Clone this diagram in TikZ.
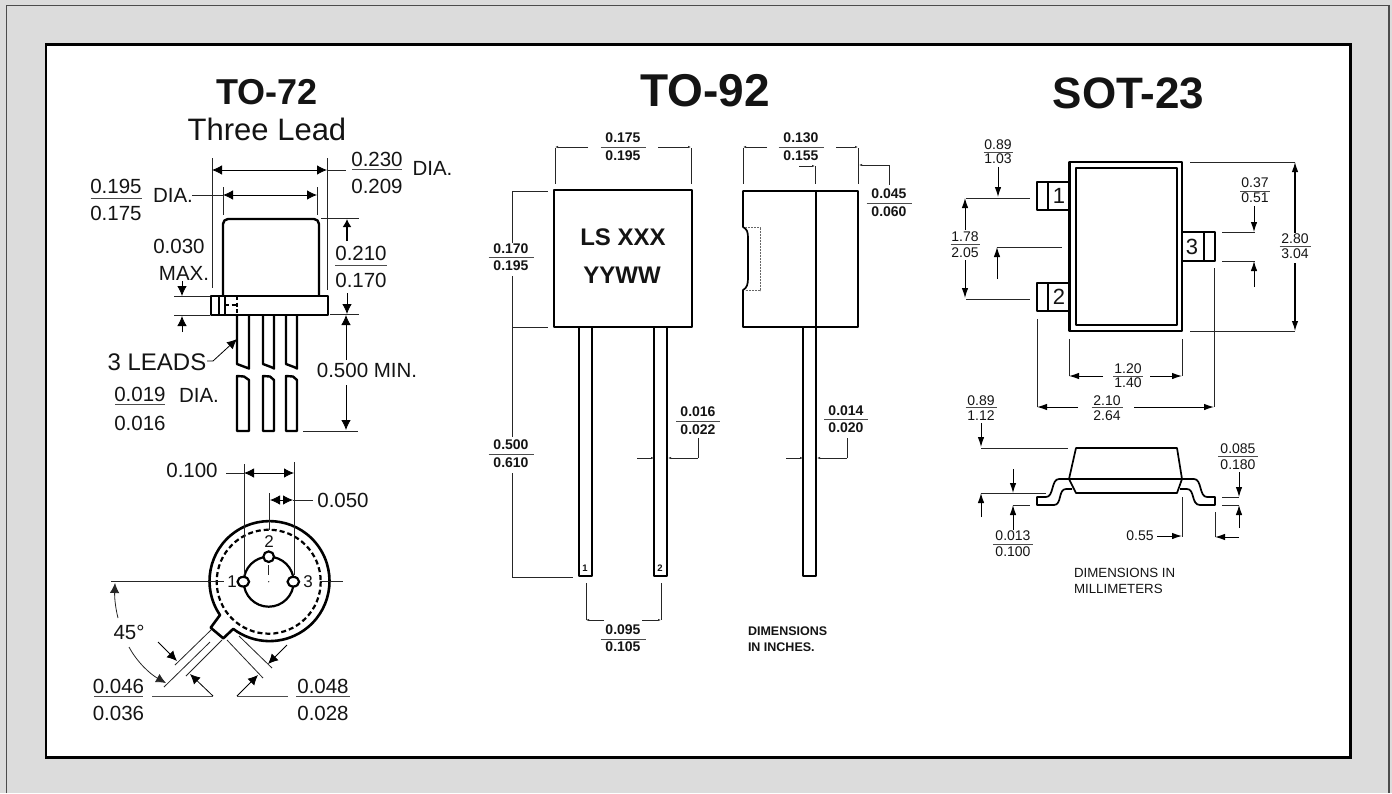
\documentclass[tikz,border=0pt]{standalone}
\usepackage{fontspec}
\setmainfont{Liberation Sans}
\usetikzlibrary{arrows.meta}
\definecolor{panel}{HTML}{DCDCDC}
\newcommand{\fs}[1]{\fontsize{#1}{#1}\selectfont}
\tikzset{
  lab/.style={inner sep=0pt,outer sep=0pt,text=black!92},
  big/.style={lab,font=\fs{20.5}},
  mono/.style={lab,font=\fs{14}\bfseries},
  smt/.style={lab,font=\fs{14}},
  thin line/.style={line width=0.8pt,black!85},
  bold line/.style={line width=2.4pt,black,line join=round},
  mid line/.style={line width=1.7pt,black,line join=round},
  A/.style={line width=0.8pt,black,-{Latex[length=10pt,width=9.5pt]}},
  AB/.style={line width=0.8pt,black,{Latex[length=10pt,width=9.5pt]}-{Latex[length=10pt,width=9.5pt]}},
  S/.style={line width=1pt,black,-{Latex[length=10pt,width=6.5pt]}},
  T/.style={line width=0.8pt,black!85,-{Latex[length=3pt,width=2.2pt]}},
}
% fraction: x, y top, y rule, y bottom, half width, numerator, denominator, style
\newcommand{\frc}[8]{%
  \node[#8] at (#1,#2) {#6};
  \draw[line width=0.9pt,black!70] (#1-#5,#3) -- (#1+#5,#3);
  \node[#8] at (#1,#4) {#7};
}
\begin{document}
\begin{tikzpicture}[x=1pt,y=-1pt]
\useasboundingbox (0,0) rectangle (1392,793);
\fill[panel] (0,0) rectangle (1392,793);
\draw[line width=1.6pt,black!70] (6.5,793) -- (6.5,5.5) -- (1388.8,5.5) -- (1388.8,793);
\draw[line width=2.6pt,black,fill=white] (45.8,44.5) rectangle (1350.5,757.5);

% ============ TO-72 ============
\node[lab,font=\fs{36}\bfseries] (t72) at (267,92) {TO-72};
\node[lab,font=\fs{31}] (t72b) at (267,129) {Three Lead};
% can
\draw[bold line] (223,295) -- (223,224) arc[start angle=180,end angle=270,radius=5] -- (314,219) arc[start angle=270,end angle=360,radius=5] -- (319,295);
\draw[bold line,fill=white] (211,296) rectangle (328,315);
\draw[mid line] (219,296) -- (219,315);
\draw[mid line] (225,296) -- (225,315);
\draw[mid line,dash pattern=on 4pt off 2.5pt] (237,296) -- (237,315);
\draw[mid line,dash pattern=on 4pt off 2.5pt] (225,305) -- (237,305);
% leads
\foreach \a/\b in {237/249,263/274,286/297}{
  \draw[bold line] (\a,316) -- (\a,364) -- (\a+8,367) -- (\b,368.5) -- (\b,316);
  \draw[bold line] (\a,376) -- (\a+7,376.5) -- (\b,380) -- (\b,431) -- (\a,431) -- cycle;
}
% dims top
\draw[thin line] (212,158) -- (212,288);
\draw[thin line] (327,158) -- (327,290);
\draw[AB] (212,170) -- (327,170);
\draw[thin line] (327,170) -- (346,170);
\draw[thin line] (223,187) -- (223,215);
\draw[thin line] (317,187) -- (317,215);
\draw[AB] (223,195) -- (317,195);
\draw[thin line] (192,195) -- (223,195);
\draw[thin line] (321,218) -- (359,218);
\draw[line width=1.8pt,black,-{Latex[length=8pt,width=9pt]}] (347,241) -- (347,219);
\draw[A] (347,293) -- (347,314);
\draw[thin line] (330,314.5) -- (359,314.5);
\draw[A] (346,360) -- (346,315);
\draw[A] (346,385) -- (346,430);
\draw[thin line] (303,431) -- (358,431);
\draw[A] (182,281) -- (182,296);
\draw[thin line] (174,296) -- (210,296);
\draw[thin line] (174,315) -- (210,315);
\draw[A] (182,332) -- (182,316);
\draw[A] (207,361) -- (213,361) -- (237,339);
% texts
\frc{116}{186}{198}{213}{25.5}{0.195}{0.175}{big}
\node[big] at (173,195) {DIA.};
\frc{377}{159}{169}{186}{25}{0.230}{0.209}{big}
\node[big] at (432.5,168) {DIA.};
\frc{361}{253}{265}{280}{26}{0.210}{0.170}{big}
\node[big] at (179,246) {0.030};
\node[big] at (184,273) {MAX.};
\node[lab,font=\fs{24}] at (157,362) {3 LEADS};
\frc{140}{394}{404}{423}{25}{0.019}{0.016}{big}
\node[big] at (199,395) {DIA.};
\node[big] at (367,370) {0.500 MIN.};
% bottom view
\coordinate (c72) at (268.7,581.7);
\draw[line width=2.6pt,black,line join=round] (220,615) arc[start angle=145.6,end angle=487.2,radius=60] -- (223.3,638.3) -- (210.7,627.7) -- cycle;
\draw[line width=2.2pt,black,dash pattern=on 5pt off 3pt] (c72) circle[radius=52];
\draw[line width=2.2pt,black] (c72) circle[radius=25];
\draw[line width=2.2pt,black,fill=white] (243.3,581.7) ellipse[x radius=5.8,y radius=4.8];
\draw[line width=2.2pt,black,fill=white] (293.3,581.7) ellipse[x radius=5.8,y radius=4.8];
\draw[line width=2.2pt,black,fill=white] (268.7,556.7) circle[radius=5.3];
\draw[thin line] (244,464) -- (244,575);
\draw[thin line] (294,462) -- (294,575);
\draw[AB] (244,473) -- (294,473);
\draw[thin line] (226,473) -- (244,473);
\draw[thin line] (269,493) -- (269,530);
\draw[thin line] (268.7,565) -- (268.7,575);
\fill[black] (268.7,581.7) circle[radius=0.6];
\draw[AB] (270,500) -- (293,500);
\draw[thin line] (293,500) -- (313,500);
\draw[thin line] (111,581.7) -- (224,581.7);
\draw[thin line] (320,581.7) -- (343,581.7);
\node[big] at (192,470) {0.100};
\node[big] at (343,500) {0.050};
\node[lab,font=\fs{17}] at (232,582) {1};
\node[lab,font=\fs{17}] at (308,582) {3};
\node[lab,font=\fs{17}] at (269,542) {2};
\node[big] at (129,632) {45°};
\draw[thin line,-{Latex[length=10pt,width=9.5pt]}] (118,618) .. controls (115,606) and (114.5,596) .. (115,583);
\draw[thin line,-{Latex[length=10pt,width=9.5pt]}] (129,647) .. controls (137,662) and (150,674) .. (166,683);
\draw[thin line] (211,630) -- (175,665);
\draw[thin line] (210,642) -- (164,687);
\draw[thin line] (222,640) -- (186,676);
\draw[thin line] (227,640) -- (263,678);
\draw[thin line] (239,636) -- (272,668);
\draw[A] (158,642) -- (177,661);
\draw[A] (287,645) -- (268,664);
\draw[A] (213,696) -- (190,674);
\draw[A] (237,696) -- (258,675);
\draw[line width=0.9pt,black!70] (152,696) -- (213,696);
\draw[line width=0.9pt,black!70] (237,696) -- (288,696);
\frc{118.5}{686}{696}{713}{24.5}{0.046}{0.036}{big}
\frc{323}{686}{696}{713}{27}{0.048}{0.028}{big}

% ============ TO-92 ============
\node[lab,font=\fs{46}\bfseries] (t92) at (705,91) {TO-92};
\draw[mid line] (554,190) rectangle (692,327);
\draw[mid line] (743,191) -- (858,191) -- (858,327) -- (743,327) -- (743,290) .. controls (747,288) and (748,284) .. (748,278) -- (748,238) .. controls (748,232) and (747,229) .. (743,227) -- cycle;
\draw[mid line] (816,191) -- (816,327);
\draw[line width=0.8pt,black!60,dash pattern=on 2pt off 1pt] (745,227.5) -- (760,227.5) -- (760,290.5) -- (745,290.5);
\draw[mid line] (579,327) -- (579,576) -- (592,576) -- (592,327);
\draw[mid line] (654,327) -- (654,576) -- (667,576) -- (667,327);
\draw[mid line] (803,327) -- (803,576) -- (816,576) -- (816,327);
\node[lab,font=\fs{24}\bfseries] at (623,237) {LS XXX};
\node[lab,font=\fs{24}\bfseries] at (622,275) {YYWW};
\node[lab,font=\fs{9.5}\bfseries] at (585,568) {1};
\node[lab,font=\fs{9.5}\bfseries] at (660,568) {2};
% dims
\draw[thin line] (555,148) -- (555,184);
\draw[thin line] (691,148) -- (691,184);
\draw[T] (588,147) -- (555,147);
\draw[T] (658,147) -- (691,147);
\frc{623}{138}{147}{156}{22.5}{0.175}{0.195}{mono}
\draw[thin line] (743,148) -- (743,184);
\draw[thin line] (858,148) -- (858,184);
\draw[T] (767,147) -- (743,147);
\draw[T] (836,147) -- (858,147);
\frc{801}{138}{147}{156}{22.5}{0.130}{0.155}{mono}
\draw[T] (799,166) -- (815,166);
\draw[thin line] (815,166) -- (815,184);
\draw[T] (889,165) -- (859,165);
\draw[thin line] (889,165) -- (889,185);
\frc{889}{194}{203}{212}{22.5}{0.045}{0.060}{mono}
\draw[thin line] (512,191) -- (548,191);
\draw[thin line] (512,191) -- (512,243);
\draw[thin line] (512,276) -- (512,327);
\draw[thin line] (512,327) -- (548,327);
\frc{511}{249}{257}{266}{22.5}{0.170}{0.195}{mono}
\draw[thin line] (512,327) -- (512,437);
\draw[thin line] (512,473) -- (512,577) -- (573,577);
\frc{511}{445}{454}{463}{22.5}{0.500}{0.610}{mono}
\frc{698}{412}{421}{430}{22}{0.016}{0.022}{mono}
\draw[thin line] (698,438) -- (698,458);
\draw[T] (698,458) -- (668,458);
\draw[T] (637,458) -- (654,458);
\frc{846}{411}{419}{428}{22}{0.014}{0.020}{mono}
\draw[thin line] (847,438) -- (847,458);
\draw[T] (847,458) -- (817,458);
\draw[T] (786,458) -- (803,458);
\draw[thin line] (586,583) -- (586,620);
\draw[thin line] (661,583) -- (661,620);
\draw[T] (604,620) -- (586,620);
\draw[T] (642,620) -- (661,620);
\frc{623}{630}{639}{647}{22.5}{0.095}{0.105}{mono}
\node[lab,font=\fs{12.5}\bfseries,anchor=west] at (748,631) {DIMENSIONS};
\node[lab,font=\fs{12.5}\bfseries,anchor=west] at (748,647) {IN INCHES.};

% ============ SOT-23 ============
\node[lab,font=\fs{44}\bfseries] (sot) at (1128.5,93) {SOT-23};
\draw[bold line] (1069.5,162) rectangle (1182,331);
\draw[mid line] (1076,168) rectangle (1177,325);
\draw[mid line] (1069,182) -- (1037,182) -- (1037,210) -- (1069,210);
\draw[mid line] (1048,182) -- (1048,210);
\draw[mid line] (1069,283) -- (1037,283) -- (1037,311) -- (1069,311);
\draw[mid line] (1048,283) -- (1048,311);
\draw[mid line] (1182,232) -- (1215,232) -- (1215,261) -- (1182,261);
\draw[mid line] (1204,232) -- (1204,261);
\node[lab,font=\fs{22}] at (1059,196) {1};
\node[lab,font=\fs{22}] at (1059,297) {2};
\node[lab,font=\fs{22}] at (1192,247) {3};
\frc{998}{145}{152}{159}{14.5}{0.89}{1.03}{smt}
\draw[S] (998,167) -- (998,197);
\draw[thin line] (966,198) -- (1030,198);
\draw[S] (965,230) -- (965,198);
\frc{965}{237}{244}{253}{14.5}{1.78}{2.05}{smt}
\draw[S] (965,260) -- (965,298);
\draw[thin line] (966,299) -- (1030,299);
\draw[thin line] (997,247) -- (1062,247);
\draw[S] (997,279) -- (997,247);
\frc{1255}{183}{191}{198}{15}{0.37}{0.51}{smt}
\draw[S] (1254,206) -- (1254,232);
\draw[thin line] (1222,232) -- (1255,232);
\draw[thin line] (1222,261) -- (1255,261);
\draw[S] (1254,287) -- (1254,261);
\draw[thin line] (1190,162) -- (1295,162);
\draw[thin line] (1190,331) -- (1295,331);
\draw[S,line width=1.2pt] (1295,233) -- (1295,162);
\draw[S,line width=1.2pt] (1295,263) -- (1295,331);
\frc{1295}{239}{246}{254}{15.5}{2.80}{3.04}{smt}
\draw[thin line] (1069,339) -- (1069,376);
\draw[thin line] (1182,339) -- (1182,376);
\draw[S] (1103,376) -- (1069,376);
\draw[S] (1150,376) -- (1182,376);
\frc{1128}{369}{376}{383}{15}{1.20}{1.40}{smt}
\draw[thin line] (1037,319) -- (1037,407);
\draw[thin line] (1214,268) -- (1214,407);
\draw[S] (1078,407) -- (1037,407);
\draw[S] (1134,407) -- (1214,407);
\frc{1107}{401}{407}{416}{15.5}{2.10}{2.64}{smt}
\frc{981}{401}{407}{416}{15.5}{0.89}{1.12}{smt}
\draw[S] (981,423) -- (981,447);
\draw[thin line] (981,448) -- (1068,448);
% side view
\draw[mid line] (1076,448) -- (1177,448) -- (1182,479) -- (1069,479) -- cycle;
\draw[mid line] (1069,479) -- (1076,493) -- (1177,493) -- (1182,479);
\draw[mid line] (1069,479) -- (1059,479) .. controls (1051,479) and (1054,497) .. (1046,497) -- (1037,497) -- (1037,505) -- (1054,505) .. controls (1062,505) and (1058,489) .. (1066,489) -- (1072,489);
\draw[mid line] (1182,479) -- (1194,479) .. controls (1202,479) and (1199,497) .. (1207,497) -- (1215,497) -- (1215,505) -- (1200,505) .. controls (1191,505) and (1195,489) .. (1187,489) -- (1180,489);
\draw[S] (1013,469) -- (1013,493);
\draw[thin line] (981,493) -- (1046,493);
\draw[S] (981,517) -- (981,493);
\draw[thin line] (1013,505) -- (1030,505);
\draw[S] (1013,530) -- (1013,505);
\frc{1013}{536}{544}{552}{20}{0.013}{0.100}{smt}
\node[smt] at (1140,536) {0.55};
\draw[S] (1157,536) -- (1182,536);
\draw[thin line] (1182,497) -- (1182,537);
\frc{1238}{449}{456}{465}{20}{0.085}{0.180}{smt}
\draw[S] (1239,472) -- (1239,497);
\draw[thin line] (1222,497) -- (1239,497);
\draw[thin line] (1222,505) -- (1239,505);
\draw[S] (1239,528) -- (1239,505);
\draw[thin line] (1215,512) -- (1215,537);
\draw[S] (1239,537) -- (1215,537);
\node[lab,font=\fs{13.3},anchor=west] at (1074,573) {DIMENSIONS IN};
\node[lab,font=\fs{13.3},anchor=west] at (1074,589) {MILLIMETERS};
\end{tikzpicture}
\end{document}
